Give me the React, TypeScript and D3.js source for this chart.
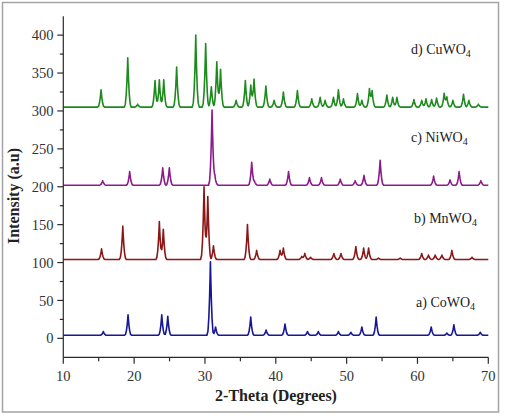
import React from "react";
import * as d3 from "d3";

// ---- data ----
const X_TICKS = [10, 20, 30, 40, 50, 60, 70];
const X_MINOR = [15, 25, 35, 45, 55, 65];
const Y_TICKS = [0, 50, 100, 150, 200, 250, 300, 350, 400];
const Y_MINOR = [25, 75, 125, 175, 225, 275, 325, 375];

// [2-theta, peak intensity] for each pattern, and baseline level
const CU_BASE = 305;
const CU_PEAKS: [number, number][] = [
  [15.33, 328], [19.1, 370], [20.5, 309], [22.95, 340], [23.56, 341], [24.18, 341],
  [26.0, 358], [28.7, 400], [30.1, 389], [30.9, 332], [31.67, 365], [32.2, 355],
  [34.4, 314], [35.7, 340], [36.47, 334], [36.93, 342], [38.6, 333], [39.76, 314],
  [41.07, 325], [43.05, 327], [45.08, 316], [46.26, 318], [46.96, 314], [48.14, 318],
  [48.84, 328], [49.55, 316], [51.53, 323], [52.15, 314], [53.22, 329], [53.6, 326],
  [55.68, 321], [56.5, 318], [57.1, 318], [59.5, 315], [60.6, 314], [61.2, 316],
  [62.0, 315], [62.7, 317], [63.77, 323], [64.15, 318], [65.0, 314], [66.5, 322],
  [67.26, 314], [68.6, 309],
];
const NI_BASE = 202;
const NI_PEAKS: [number, number][] = [
  [15.56, 208], [19.37, 220], [24.04, 225], [24.97, 225], [31.0, 301], [31.4, 214],
  [36.6, 232], [37.0, 207], [39.15, 210], [41.8, 220], [44.75, 212], [46.45, 212],
  [49.1, 210], [51.2, 208], [52.45, 215], [54.73, 235], [62.28, 214], [64.6, 209],
  [65.88, 220], [68.95, 208],
];
const MN_BASE = 104;
const MN_PEAKS: [number, number][] = [
  [15.4, 118], [18.4, 148], [23.56, 154], [24.12, 144], [29.87, 200], [30.4, 187],
  [31.2, 122], [36.0, 150], [37.3, 116], [40.6, 116], [41.07, 119], [43.67, 108],
  [44.1, 112], [44.9, 107], [48.2, 112], [49.2, 112], [51.3, 121], [52.4, 119],
  [53.1, 119], [54.5, 106], [57.56, 106], [60.6, 112], [61.55, 110], [62.5, 110],
  [63.45, 110], [64.86, 116], [67.7, 107],
];
const CO_BASE = 4;
const CO_PEAKS: [number, number][] = [
  [15.65, 9], [19.14, 31], [23.9, 31], [24.75, 29], [30.77, 101], [31.5, 15],
  [36.46, 28], [38.63, 11], [41.3, 19], [44.47, 9], [46.0, 9], [48.84, 9],
  [50.6, 8], [52.15, 15], [54.17, 28], [61.94, 15], [64.15, 7], [65.14, 18],
  [68.86, 8],
];

const SERIES = [
  { name: "d) CuWO", base: CU_BASE, peaks: CU_PEAKS, color: "#1c8a1c", lx: 411, ly: 54 },
  { name: "c) NiWO", base: NI_BASE, peaks: NI_PEAKS, color: "#8c1a8c", lx: 411, ly: 142 },
  { name: "b) MnWO", base: MN_BASE, peaks: MN_PEAKS, color: "#8c1616", lx: 414, ly: 223 },
  { name: "a) CoWO", base: CO_BASE, peaks: CO_PEAKS, color: "#161696", lx: 416, ly: 307 },
];

const W = 507;
const H = 418;
const x = d3.scaleLinear().domain([10, 70]).range([63.3, 488.3]);
const y = d3.scaleLinear().domain([-25, 425]).range([357.3, 16.2]);

function profile(base: number, peaks: [number, number][]) {
  const w = 0.5;
  const shape = (t: number) => (t >= 1 ? 0 : Math.pow(1 - t, 2.4));
  const xs: number[] = [10, 70];
  peaks.forEach(([p]) => {
    [-1, -0.7, -0.45, -0.25, -0.1, 0, 0.1, 0.25, 0.45, 0.7, 1].forEach((k) => xs.push(p + k * w));
  });
  const sorted = Array.from(new Set(xs.filter((v) => v >= 10 && v <= 70))).sort((a, b) => a - b);
  return sorted.map((xv) => {
    let v = base;
    peaks.forEach(([p, h]) => {
      v += (h - base) * shape(Math.abs(xv - p) / w);
    });
    return [xv, v] as [number, number];
  });
}

const line = d3
  .line<[number, number]>()
  .x((d) => x(d[0]))
  .y((d) => y(d[1]));

const FONT = "'Liberation Serif', 'Times New Roman', Times, serif";

export default function App() {
  const axisColor = "#2a2a2a";
  const ts = { fontFamily: FONT };
  return (
    <svg
      width={W}
      height={H}
      style={{ position: "absolute", left: 0, top: 0, background: "#fff", fontFamily: FONT }}
    >
      <rect x={0} y={0} width={W} height={H} fill="#fff" />
      <rect x={2.5} y={2.5} width={496} height={409.5} fill="none" stroke="#a3a3a3" strokeWidth={1.5} />

      {SERIES.map((s) => (
        <path
          key={s.name}
          d={line(profile(s.base, s.peaks)) || ""}
          fill="none"
          stroke={s.color}
          strokeWidth={1.6}
          strokeLinejoin="round"
        />
      ))}

      {/* axes */}
      <line x1={x(10)} x2={x(10)} y1={y(425)} y2={y(-25)} stroke={axisColor} strokeWidth={1.2} />
      <line x1={x(10)} x2={x(70)} y1={y(-25)} y2={y(-25)} stroke={axisColor} strokeWidth={1.2} />
      {Y_TICKS.map((t) => (
        <g key={"y" + t}>
          <line x1={x(10) - 6} x2={x(10)} y1={y(t)} y2={y(t)} stroke={axisColor} strokeWidth={1.2} />
          <text x={53.5} y={y(t)} dy="0.35em" textAnchor="end" fontSize={14.5} fill="#333" style={ts}>
            {t}
          </text>
        </g>
      ))}
      {Y_MINOR.map((t) => (
        <line key={"ym" + t} x1={x(10) - 3.5} x2={x(10)} y1={y(t)} y2={y(t)} stroke={axisColor} strokeWidth={1.2} />
      ))}
      {X_TICKS.map((t) => (
        <g key={"x" + t}>
          <line x1={x(t)} x2={x(t)} y1={y(-25)} y2={y(-25) + 6.5} stroke={axisColor} strokeWidth={1.2} />
          <text x={x(t)} y={381} textAnchor="middle" fontSize={14.5} fill="#333" style={ts}>
            {t}
          </text>
        </g>
      ))}
      {X_MINOR.map((t) => (
        <line key={"xm" + t} x1={x(t)} x2={x(t)} y1={y(-25)} y2={y(-25) + 4} stroke={axisColor} strokeWidth={1.2} />
      ))}

      {/* axis titles */}
      <text x={276} y={401} textAnchor="middle" fontSize={16} fontWeight="bold" fill="#222" style={ts}>
        2-Theta (Degrees)
      </text>
      <text
        transform={`translate(18.5,196) rotate(-90)`}
        textAnchor="middle"
        fontSize={16}
        fontWeight="bold"
        fill="#222"
        style={ts}
      >
        Intensity (a.u)
      </text>

      {/* labels */}
      {SERIES.map((s) => (
        <text key={"l" + s.name} x={s.lx} y={s.ly} fontSize={14} fill="#222" style={ts}>
          {s.name}
          <tspan fontSize={10} dy={3}>4</tspan>
        </text>
      ))}
    </svg>
  );
}
